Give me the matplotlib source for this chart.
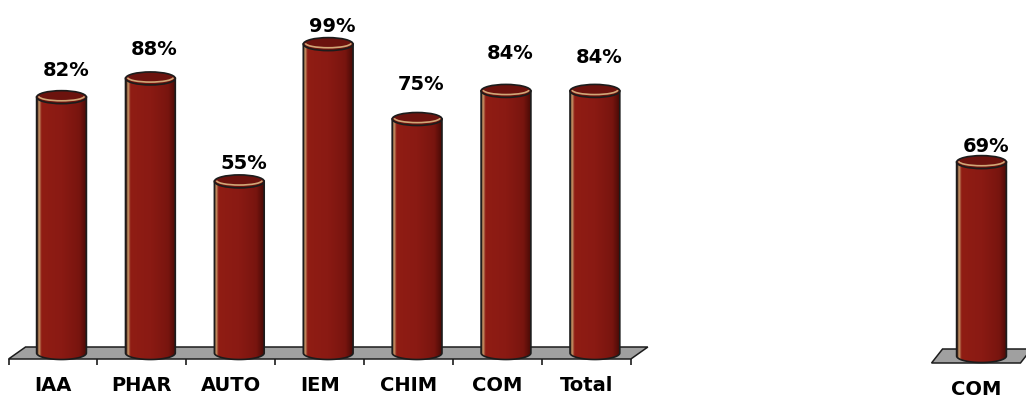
import numpy as np
import matplotlib
matplotlib.use("Agg")
import matplotlib.pyplot as plt
from matplotlib.colors import LinearSegmentedColormap
from matplotlib.patches import Arc, Ellipse, PathPatch, Polygon
from matplotlib.path import Path

# ---------------------------------------------------------------------------
# Data
# ---------------------------------------------------------------------------
categories = ["IAA", "PHAR", "AUTO", "IEM", "CHIM", "COM", "Total"]
rates = [82, 88, 55, 99, 75, 84, 84]

# second chart, cut off at the right edge of the source
right_categories = ["COM"]
right_rates = [69]

# vertical offset of each % label above its bar top, in points
label_pads = [19, 21, 13, 13, 25, 27, 24]
right_label_pads = [11]

FONT = dict(family="DejaVu Sans", fontweight="bold", fontsize=14)
FLOOR = "#a0a0a0"
EDGE = "#1c1c1c"
TOP_RED = "#6c130e"
RIM = "#d2a676"
body_cmap = LinearSegmentedColormap.from_list(
    "cyl", [(0.0, "#2a0604"), (0.04, "#c99e6c"), (0.09, "#901d14"),
            (0.50, "#8a1a13"), (0.85, "#78150f"), (1.0, "#480a06")])

BAR_W = 0.56        # in category units
ELL_PX = 13         # height of the cylinder caps, pixels


def draw_panel(ax, cats, vals, pads, depth_px, ticks=True):
    x0, x1 = ax.get_xlim()
    y0, y1 = ax.get_ylim()
    sx = ax.bbox.width / (x1 - x0)
    sy = ax.bbox.height / (y1 - y0)
    ddx, ddy = depth_px[0] / sx, depth_px[1] / sy
    eh = ELL_PX / sy
    n = len(cats)

    # grey floor (a flat parallelogram seen in perspective)
    ax.add_patch(Polygon([(-0.5, 0), (n - 0.5, 0), (n - 0.5 + ddx, ddy),
                          (-0.5 + ddx, ddy)], closed=True, fc=FLOOR,
                         ec=EDGE, lw=1.1, zorder=1))
    if ticks:
        for k in range(n + 1):
            ax.plot([k - 0.5, k - 0.5], [0, -6 / sy], color=EDGE, lw=1.2,
                    zorder=1, solid_capstyle="butt")

    t = np.linspace(np.pi, 2 * np.pi, 60)
    grad = np.linspace(0, 1, 256)[None, :]
    for i, (v, pad) in enumerate(zip(vals, pads)):
        cx = i + ddx / 2
        by = ddy / 2
        top = by + v
        left, right = cx - BAR_W / 2, cx + BAR_W / 2

        verts = [(left, top), (left, by)]
        verts += list(zip(cx + BAR_W / 2 * np.cos(t), by + eh / 2 * np.sin(t)))
        verts += [(right, top), (left, top)]
        body = PathPatch(Path(verts, closed=True), fc="none", ec=EDGE,
                         lw=1.2, zorder=3)
        ax.add_patch(body)
        im = ax.imshow(grad, cmap=body_cmap, aspect="auto", zorder=2,
                       extent=(left, right, by - eh / 2, top),
                       interpolation="bilinear")
        im.set_clip_path(body)

        ax.add_patch(Ellipse((cx, top), BAR_W, eh, fc=TOP_RED, ec=EDGE,
                             lw=1.2, zorder=4))
        ax.add_patch(Arc((cx, top + eh * 0.08), BAR_W * 0.92, eh * 0.72,
                         theta1=195, theta2=345, color=RIM, lw=1.2, zorder=5))

        ax.annotate(f"{v}%", xy=(cx, top), xytext=(3, pad),
                    textcoords="offset points", ha="center", va="center",
                    zorder=6, **FONT)
        ax.annotate(cats[i], xy=(i, 0), xytext=(0, -19),
                    textcoords="offset points", ha="center", va="center",
                    **FONT)

    ax.set_autoscale_on(False)
    ax.set_xlim(x0, x1)
    ax.set_ylim(y0, y1)
    ax.axis("off")


fig = plt.figure(figsize=(10.26, 3.97), dpi=100)
W, H = 1026, 397

# left chart: category 0 at pixel 53, 88.9 px per category, 3.12 px per %
ax = fig.add_axes([0, 0, 660 / W, 1])
ax.set_xlim(-53 / 88.9, (660 - 53) / 88.9)
ax.set_ylim(-(H - 359) / 3.12, 359 / 3.12)
draw_panel(ax, categories, rates, label_pads, depth_px=(17, 12))

# right chart: category 0 at pixel 976, 2.81 px per %
ax2 = fig.add_axes([900 / W, 0, 126 / W, 1])
ax2.set_xlim(-(976 - 900) / 88.9, (W - 976) / 88.9)
ax2.set_ylim(-(H - 363) / 2.81, 363 / 2.81)
draw_panel(ax2, right_categories, right_rates, right_label_pads,
           depth_px=(11, 14), ticks=False)

fig.savefig("out.png", dpi=100, facecolor="white")
